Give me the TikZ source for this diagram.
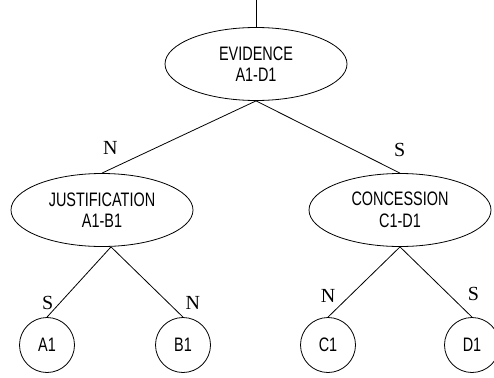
\documentclass[tikz,border=0pt]{standalone}
\usepackage{fontspec}
\setmainfont{Liberation Serif}
\newfontfamily\nodefont{Liberation Sans}[FakeStretch=0.74]
\usepackage{tikz}
\usetikzlibrary{shapes,positioning}

\begin{document}
\begin{tikzpicture}[
    x=1pt, y=-1pt,
    node distance=146pt and 154pt, on grid,
    relnode/.style={ellipse, draw, line width=0.8pt, inner sep=0pt, minimum width=182pt, minimum height=73pt, align=center, font=\nodefont\fontsize{19.5}{21.5}\selectfont},
    leaf/.style={circle, draw, line width=0.8pt, inner sep=0pt, minimum size=55pt, font=\nodefont\fontsize{19.5}{21.5}\selectfont},
    edge/.style={line width=0.8pt},
    nuc/.style={font=\fontsize{20}{22}\selectfont, inner sep=1pt}
]
    \useasboundingbox (0,0) rectangle (494,377);

    % Root relation
    \node[relnode] (evidence) at (256,64) {EVIDENCE\\A1-D1};
    \coordinate (top) at (256,0);

    % Second level
    \node[relnode, below left=146pt and 154pt of evidence] (justification) {JUSTIFICATION\\A1-B1};
    \node[relnode, below right=146pt and 144pt of evidence] (concession) {CONCESSION\\C1-D1};

    % Leaves
    \node[leaf, below left=135pt and 55pt of justification] (a1) {A1};
    \node[leaf, below right=135pt and 81pt of justification] (b1) {B1};
    \node[leaf, below left=135pt and 72pt of concession] (c1) {C1};
    \node[leaf, below right=135pt and 72pt of concession] (d1) {D1};

    % Edges
    \draw[edge] (evidence.north) -- (top);
    \draw[edge] (evidence.south) -- node[nuc, pos=0.9, above=10pt, xshift=-7pt] {N} (justification.north);
    \draw[edge] (evidence.south) -- node[nuc, pos=0.9, above=8pt, xshift=14pt] {S} (concession.north);
    \draw[edge] ([xshift=9pt]justification.south) -- node[nuc, pos=0.85, left=2pt, yshift=4pt] {S} (a1.north);
    \draw[edge] ([xshift=9pt]justification.south) -- node[nuc, pos=0.85, right=12pt, yshift=4pt] {N} (b1.north);
    \draw[edge] (concession.south) -- node[nuc, pos=0.7, left=13pt] {N} (c1.north);
    \draw[edge] (concession.south) -- node[nuc, pos=0.7, right=16pt, yshift=2pt] {S} (d1.north);

\end{tikzpicture}
\end{document}
